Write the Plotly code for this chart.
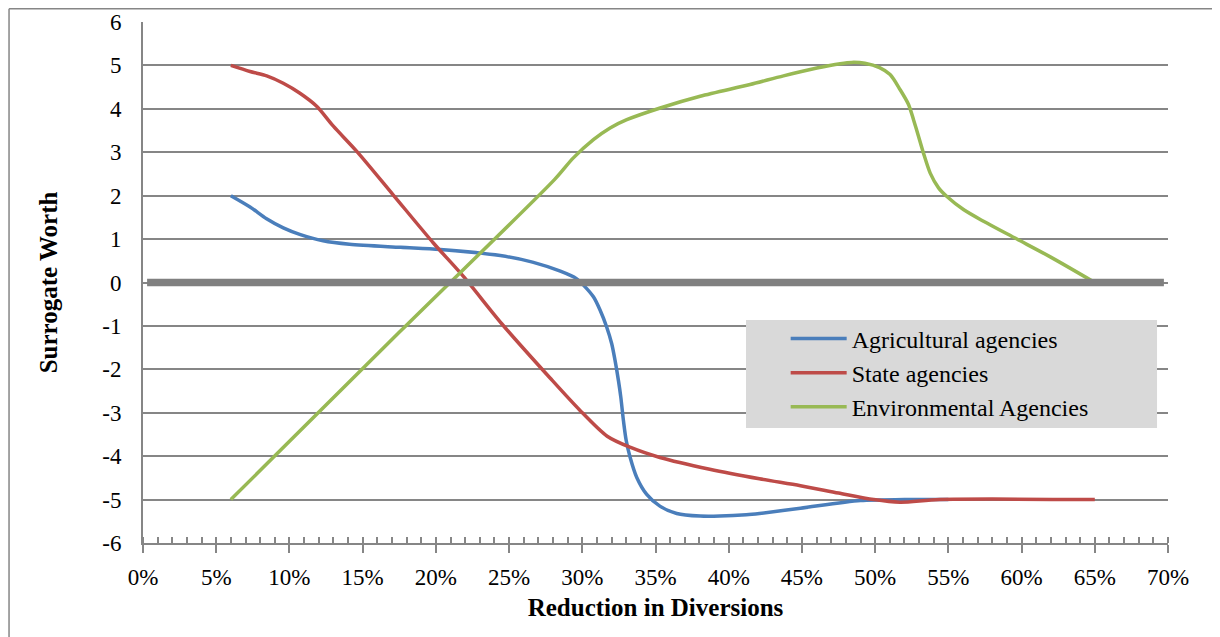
import plotly.graph_objects as go

# Data (x in % reduction, y surrogate worth)
x_agri = [6, 7.31, 8.44, 9.58, 10.7, 12.3, 14.1, 17.6, 20.3, 24.4, 26.6, 28.5, 29.6, 30.08, 30.76,
          31.22, 31.67, 32.01, 32.24, 32.47, 32.63, 32.81, 33.0, 33.27, 33.72, 34.4, 35.3, 36.45,
          38.05, 39.4, 41.2, 42.1, 44.9, 49.0, 52.0, 55.0]
y_agri = [2.0, 1.74, 1.47, 1.26, 1.11, 0.96, 0.88, 0.81, 0.76, 0.62, 0.47, 0.26, 0.09, -0.06, -0.33,
          -0.64, -1.03, -1.41, -1.8, -2.26, -2.64, -3.18, -3.64, -4.03, -4.49, -4.88, -5.15, -5.32,
          -5.38, -5.38, -5.35, -5.32, -5.2, -5.02, -5.0, -5.0]

x_state = [6, 7.31, 8.45, 9.58, 10.72, 11.86, 13.0, 14.6, 17.08, 19.83, 21.88, 24.5, 27.8, 29.8,
           31.7, 33.3, 35.3, 38.7, 42.1, 44.9, 47.5, 49.9, 51.7, 54.4, 65.0]
y_state = [5.0, 4.86, 4.76, 4.59, 4.36, 4.06, 3.6, 3.02, 2.02, 0.91, 0.14, -0.95, -2.2, -2.93,
           -3.54, -3.8, -4.03, -4.3, -4.52, -4.68, -4.85, -5.0, -5.06, -5.0, -5.0]

x_env = [6, 17.55, 28.1, 29.39, 30.76, 31.9, 33.04, 35.32, 38.05, 41.46, 43.74, 46.02, 47.61, 48.4,
         49.3, 50.3, 51.02, 51.71, 52.28, 52.62, 52.96, 53.3, 53.76, 54.33, 54.9, 56.03, 57.4,
         59.68, 61.96, 65.0]
y_env = [-5.0, -1.13, 2.37, 2.87, 3.29, 3.56, 3.75, 4.02, 4.29, 4.56, 4.76, 4.94, 5.04, 5.07,
         5.05, 4.95, 4.79, 4.44, 4.1, 3.75, 3.37, 2.98, 2.52, 2.18, 1.98, 1.68, 1.41,
         1.0, 0.59, 0.0]

series_names = ["Agricultural agencies", "State agencies", "Environmental Agencies"]
series_colors = ["#4a7ebb", "#be4b48", "#98b954"]

x_ticks = list(range(0, 71, 5))
x_ticktext = [f"{v}%" for v in x_ticks]
y_ticks = list(range(-6, 7))
y_ticktext = [str(v) for v in y_ticks]

FONT = "Liberation Serif, Times New Roman, serif"
AXC = "#868686"

fig = go.Figure()
for xs, ys, name, col in zip([x_agri, x_state, x_env], [y_agri, y_state, y_env],
                             series_names, series_colors):
    fig.add_trace(go.Scatter(x=xs, y=ys, mode="lines", name=name,
                             line=dict(color=col, width=3.5, shape="spline", smoothing=0.8)))

# empty trace for overlay axis (inner part of the major ticks)
fig.add_trace(go.Scatter(x=[None], y=[None], xaxis="x2", showlegend=False, hoverinfo="skip"))

fig.update_layout(
    width=1220, height=637,
    margin=dict(l=135, r=60, t=14, b=102, autoexpand=False),
    paper_bgcolor="white", plot_bgcolor="white",
    font=dict(family=FONT, color="black", size=23),
    showlegend=True,
    legend=dict(x=0.627, y=0.435, xanchor="left", yanchor="top",
                bgcolor="rgba(0,0,0,0)", font=dict(size=24, family=FONT),
                itemwidth=56, tracegroupgap=0),
    xaxis=dict(range=[0, 70], tickvals=x_ticks, ticktext=x_ticktext, automargin=False,
               showgrid=False, zeroline=False,
               showline=True, linecolor=AXC, linewidth=2,
               ticks="outside", ticklen=8, tickwidth=2, tickcolor=AXC,
               ticklabelstandoff=4,
               minor=dict(dtick=1, ticks="inside", ticklen=6, tickwidth=1.5, tickcolor=AXC),
               tickfont=dict(size=23, family=FONT),
               title=dict(text="<b>Reduction in Diversions</b>", font=dict(size=25, family=FONT),
                          standoff=10)),
    xaxis2=dict(range=[0, 70], overlaying="x", side="bottom", tickvals=x_ticks, automargin=False,
                showticklabels=False, showgrid=False, zeroline=False, showline=False,
                ticks="inside", ticklen=6, tickwidth=2, tickcolor=AXC),
    yaxis=dict(range=[-6, 6], tickvals=y_ticks, ticktext=y_ticktext, automargin=False,
               showgrid=True, gridcolor=AXC, gridwidth=1.5,
               zeroline=False, showline=True, linecolor=AXC, linewidth=2,
               ticks="", ticklabelstandoff=15,
               tickfont=dict(size=23, family=FONT),
               title=dict(text="<b>Surrogate Worth</b>", font=dict(size=25, family=FONT),
                          standoff=37)),
    shapes=[
        # outer chart border (left, top, right)
        dict(type="line", xref="paper", yref="paper", x0=-0.1307, x1=-0.1307, y0=-0.25, y1=1.0254,
             line=dict(color=AXC, width=1.5), layer="below"),
        dict(type="line", xref="paper", yref="paper", x0=-0.1307, x1=1.0455, y0=1.0254, y1=1.0254,
             line=dict(color=AXC, width=1.5), layer="below"),
        dict(type="line", xref="paper", yref="paper", x0=1.0455, x1=1.0455, y0=-0.25, y1=1.0254,
             line=dict(color=AXC, width=1.5), layer="below"),
        # legend background box
        dict(type="rect", xref="paper", yref="paper", x0=0.5883, x1=0.9893, y0=0.2207, y1=0.428,
             line=dict(width=0), fillcolor="#d9d9d9", layer="above"),
        # thick zero reference line
        dict(type="line", xref="paper", yref="y", x0=0.004, x1=0.996, y0=0, y1=0,
             line=dict(color="#808080", width=7.5), layer="above"),
    ],
)

fig.write_html("out.html")
